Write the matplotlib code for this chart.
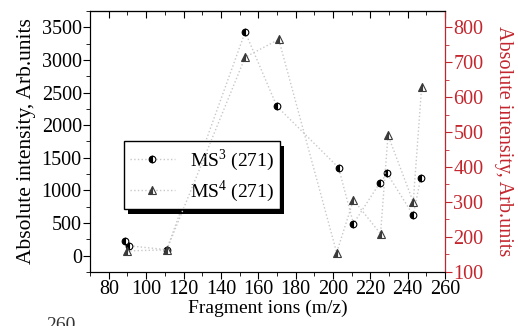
import matplotlib
matplotlib.use("Agg")
import matplotlib.pyplot as plt
import matplotlib.ticker as ticker
import matplotlib.patheffects as pe

plt.rcParams["font.family"] = ["Liberation Serif", "DejaVu Serif"]
plt.rcParams["mathtext.fontset"] = "custom"
plt.rcParams["mathtext.rm"] = "Liberation Serif"

# MS3 (271) - left axis
ms3_x = [88.5, 91, 111, 153, 170, 203, 211, 225, 229, 243, 247]
ms3_y = [230, 150, 90, 3430, 2290, 1350, 490, 1110, 1260, 620, 1190]

# MS4 (271) - right axis
ms4_x = [89.5, 111, 153, 171, 202, 211, 225.5, 229.5, 243, 247.5]
ms4_y = [160, 163, 714, 765, 155, 306, 209, 491, 300, 628]

red = "#c4262e"

fig = plt.figure(figsize=(5.18, 3.26), dpi=100)
ax = fig.add_axes([0.174, 0.166, 0.685, 0.8])
ax2 = ax.twinx()

l1, = ax.plot(ms3_x, ms3_y, linestyle=":", color="#c8c8c8", lw=1,
              marker="o", ms=4.8, mfc="black", mfcalt="white", fillstyle="left",
              mec="black", mew=0.8, label="MS$^3$ (271)")
l2, = ax2.plot(ms4_x, ms4_y, linestyle=":", color="#c8c8c8", lw=1,
               marker="^", ms=6, mfc="#3a3a3a", mfcalt="white", fillstyle="left",
               mec="#3a3a3a", mew=0.8, label="MS$^4$ (271)")

ax.set_xlim(70, 260)
ax.set_ylim(-250, 3750)
ax2.set_ylim(100, 846)

ax.xaxis.set_major_locator(ticker.MultipleLocator(20))
ax.xaxis.set_minor_locator(ticker.MultipleLocator(10))
ax.yaxis.set_major_locator(ticker.MultipleLocator(500))
ax.yaxis.set_minor_locator(ticker.MultipleLocator(250))
ax2.yaxis.set_major_locator(ticker.MultipleLocator(100))
ax2.yaxis.set_minor_locator(ticker.MultipleLocator(50))

ax.tick_params(which="both", direction="out", labelsize=14.5, pad=1)
ax.tick_params(which="major", length=5)
ax.tick_params(which="minor", length=3)

top = ax.secondary_xaxis("top")
top.xaxis.set_major_locator(ticker.MultipleLocator(20))
top.xaxis.set_minor_locator(ticker.MultipleLocator(10))
top.tick_params(which="both", direction="in", labeltop=False)
top.tick_params(which="major", length=5)
top.tick_params(which="minor", length=3)

ax2.tick_params(which="both", colors=red, labelsize=14.5, pad=1)
ax2.tick_params(which="major", length=5)
ax2.tick_params(which="minor", length=3)
ax2.spines["right"].set_color(red)

ax.set_xlabel("Fragment ions (m/z)", fontsize=14, labelpad=0)
ax.set_ylabel("Absolute intensity, Arb.units", fontsize=15.5, labelpad=4)
ax2.set_ylabel("Absolute intensity, Arb.units", fontsize=14.5, color=red,
               rotation=270, labelpad=21)

leg = ax.legend(handles=[l1, l2], loc="upper left", bbox_to_anchor=(0.096, 0.5),
                borderaxespad=0, fontsize=14, frameon=True, fancybox=False,
                framealpha=1, handlelength=2.3, borderpad=0.3, labelspacing=0.25)
leg.get_frame().set_edgecolor("black")
leg.get_frame().set_linewidth(1)
leg.get_frame().set_path_effects([pe.SimplePatchShadow(offset=(3, -3), shadow_rgbFace="black", alpha=1),
                                  pe.Normal()])

fig.text(0.09, -0.025, "260", fontsize=14, color="#333333", va="bottom")

fig.savefig("out.png", dpi=100)
